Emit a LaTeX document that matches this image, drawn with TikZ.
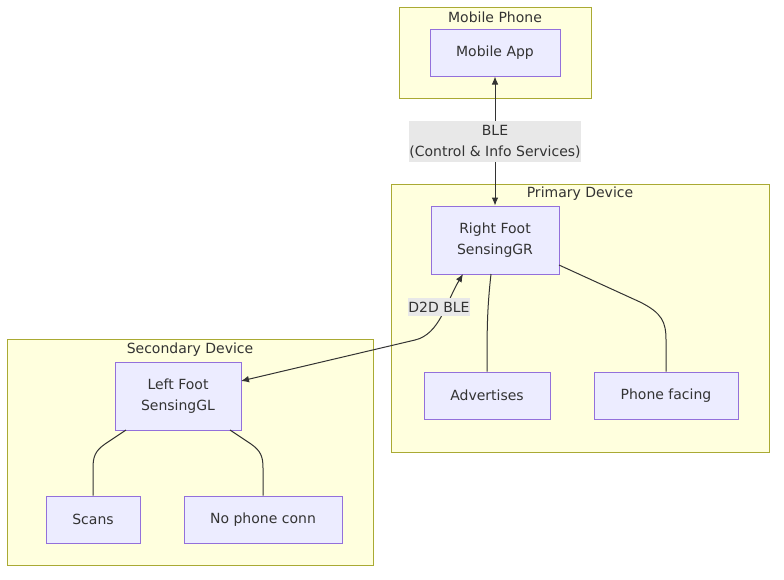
\documentclass[tikz,border=0pt]{standalone}
\usepackage{fontspec}
\setmainfont{DejaVu Sans}
\usetikzlibrary{arrows.meta}
\definecolor{clusterfill}{HTML}{FFFFDE}
\definecolor{clusterline}{HTML}{AAAA33}
\definecolor{boxfill}{HTML}{ECECFF}
\definecolor{boxline}{HTML}{9370DB}
\definecolor{labelfill}{HTML}{E8E8E8}
\definecolor{ink}{HTML}{333333}
\tikzset{
  cluster/.style={fill=clusterfill,draw=clusterline,line width=0.75pt},
  box/.style={fill=boxfill,draw=boxline,line width=0.75pt,align=center,text=ink,
    minimum height=35.25pt,inner sep=0pt},
  title/.style={text=ink,inner sep=0pt},
  link/.style={draw=ink,line width=0.75pt},
  tip/.style={{Latex[length=6pt,width=5pt]}-{Latex[length=6pt,width=5pt]}},
  edgelabel/.style={fill=labelfill,text=ink,align=center,inner sep=0pt}
}
\begin{document}
\begin{tikzpicture}[x=0.75pt,y=-0.75pt]
\fontsize{10.5pt}{15.75pt}\selectfont
\useasboundingbox (0,0) rectangle (784,579);

% clusters
\draw[cluster] (399,7) rectangle (591,98);
\node[title] (tphone) at (495,17) {Mobile Phone};
\draw[cluster] (391,184) rectangle (769,452);
\node[title] (tprim) at (580,194) {Primary Device};
\draw[cluster] (7,339) rectangle (373,565);
\node[title] (tsec) at (190,350) {Secondary Device};

% nodes
\node[box,minimum width=97.5pt] (app) at (495,52.5) {Mobile App};
\node[box,minimum width=96pt,minimum height=51pt] (right) at (495,240) {Right Foot\\SensingGR};
\node[box,minimum width=94.5pt] (adv) at (487,395.5) {Advertises};
\node[box,minimum width=108pt] (face) at (666,395.5) {Phone facing};
\node[box,minimum width=94.5pt,minimum height=51pt] (left) at (178,396) {Left Foot\\SensingGL};
\node[box,minimum width=70.5pt] (scans) at (93,519.5) {Scans};
\node[box,minimum width=118.5pt] (nophone) at (263,519.5) {No phone conn};

% links
\draw[link,tip] (app) -- (right);
\node[edgelabel,minimum width=129pt,minimum height=30.75pt] (ble) at (495,141.5) {BLE\\(Control \& Info Services)};

\coordinate (rs) at (463,274);
\coordinate (la) at (241,381);
\draw[link,tip] (rs) .. controls (446,302) and (440,334) .. (415,340) -- (la);
\node[edgelabel,minimum width=46pt,minimum height=14pt] (d2d) at (439,307) {D2D BLE};

\draw[link] (491,274) .. controls (487,310) and (487,330) .. (adv.north);
\draw[link] (559,265) -- (640,302) .. controls (662,313) and (666,322) .. (666,340) -- (face.north);
\draw[link] (126,430) -- (105,444) .. controls (95,451) and (93,457) .. (93,468) -- (scans.north);
\draw[link] (230,430) -- (251,444) .. controls (261,451) and (263,457) .. (263,468) -- (nophone.north);
\end{tikzpicture}
\end{document}
